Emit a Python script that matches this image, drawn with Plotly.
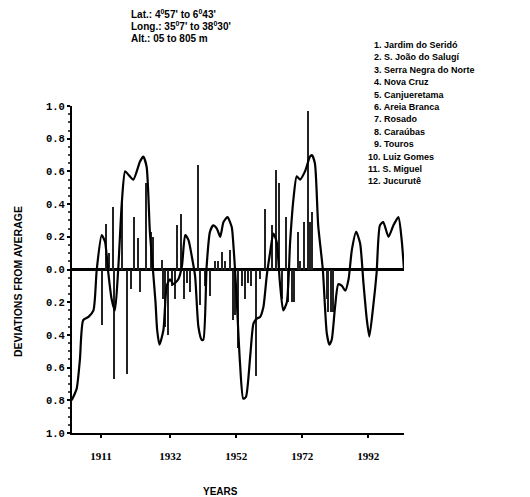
import plotly.graph_objects as go

# Smoothed curve (years, deviation)
curve_years = [1902.1, 1903.6, 1904.6, 1905.6, 1907.2, 1908.7, 1909.7, 1911.2, 1912.2, 1913.2,
               1914.2, 1915.2, 1916.2, 1917.3, 1918.3, 1919.3, 1920.8, 1922.8, 1923.8, 1924.8,
               1925.8, 1926.8, 1927.5, 1928.0, 1928.7, 1929.9, 1930.9, 1931.9, 1932.9, 1934.4,
               1935.5, 1936.5, 1937.5, 1938.5, 1939.5, 1940.5, 1941.5, 1942.0, 1943.0, 1944.0,
               1945.0, 1946.1, 1947.1, 1948.1, 1949.3, 1950.6, 1951.0, 1951.6, 1952.1, 1953.1,
               1954.1, 1954.9, 1956.2, 1957.2, 1958.2, 1959.2, 1960.2, 1961.2, 1962.2, 1963.2,
               1964.2, 1965.2, 1966.2, 1967.3, 1968.3, 1969.3, 1970.3, 1971.3, 1972.8, 1974.3,
               1974.9, 1975.8, 1976.8, 1978.2, 1979.4, 1980.2, 1980.9, 1981.9, 1982.9, 1984.0,
               1985.0, 1986.0, 1987.0, 1988.3, 1989.5, 1990.5, 1991.5, 1992.3, 1993.5, 1994.5,
               1995.5, 1996.5, 1998.1, 1999.6, 2001.1, 2002.1, 2002.8]
curve_values = [-0.80, -0.73, -0.55, -0.31, -0.29, -0.25, 0.00, 0.21, 0.17, -0.02,
                -0.18, -0.25, 0.00, 0.41, 0.60, 0.58, 0.55, 0.66, 0.69, 0.63,
                0.23, -0.02, -0.20, -0.37, -0.46, -0.37, -0.10, -0.06, -0.09, -0.06,
                0.02, 0.21, 0.18, 0.08, -0.04, -0.35, -0.43, -0.43, 0.02, 0.23,
                0.27, 0.25, 0.20, 0.29, 0.32, 0.26, 0.18, 0.00, -0.18, -0.57,
                -0.79, -0.78, -0.53, -0.33, -0.30, -0.29, -0.23, -0.04, 0.10, 0.22,
                0.17, -0.08, -0.25, -0.20, 0.17, 0.43, 0.57, 0.55, 0.60, 0.69,
                0.70, 0.65, 0.27, 0.00, -0.39, -0.46, -0.43, -0.23, -0.09, -0.10,
                -0.13, -0.06, 0.12, 0.23, 0.16, -0.08, -0.30, -0.41, -0.22, -0.02,
                0.27, 0.29, 0.20, 0.27, 0.32, 0.18, 0.00]

# Individual station deviations (spikes)
spike_years = [1911.2, 1912.5, 1913.5, 1914.5, 1915.0, 1917.3, 1919.0, 1920.0, 1921.0, 1922.3,
               1922.8, 1924.6, 1926.2, 1926.7, 1929.4, 1929.9, 1930.4, 1931.4, 1932.4, 1933.4,
               1933.9, 1935.3, 1936.0, 1937.0, 1938.0, 1940.3, 1941.0, 1942.5, 1944.0, 1945.5,
               1946.5, 1947.6, 1948.6, 1950.1, 1950.9, 1951.6, 1952.6, 1953.6, 1954.6, 1955.6,
               1956.6, 1958.0, 1959.2, 1960.7, 1962.7, 1964.0, 1965.0, 1965.8, 1967.0, 1967.8,
               1968.8, 1969.6, 1970.8, 1971.4, 1972.5, 1973.8, 1974.3, 1974.8, 1979.4, 1979.9,
               1980.6, 1981.2]
spike_values = [-0.34, 0.28, 0.10, 0.38, -0.67, 0.41, -0.64, -0.12, 0.32, 0.19,
                -0.14, 0.53, 0.23, 0.20, 0.06, -0.18, -0.35, -0.40, -0.10, -0.18,
                0.27, 0.34, -0.18, -0.08, -0.14, 0.64, -0.22, -0.10, -0.16, 0.05,
                0.05, 0.11, 0.05, 0.12, -0.31, -0.28, -0.48, -0.10, -0.18, -0.08,
                -0.10, -0.65, -0.06, 0.37, 0.27, 0.61, 0.53, -0.18, 0.32, -0.20,
                -0.20, -0.20, 0.23, 0.05, 0.29, 0.97, 0.29, 0.35, -0.18, -0.26,
                -0.26, -0.26]

x_tick_years = [1911, 1932, 1952, 1972, 1992]
y_tick_vals = [1.0, 0.8, 0.6, 0.4, 0.2, 0.0, -0.2, -0.4, -0.6, -0.8, -1.0]
y_tick_text = ["1.0", "0.8", "0.6", "0.4", "0.2", "0.0", "0.2", "0.4", "0.6", "0.8", "1.0"]

header_lines = ["Lat.: 4<sup>0</sup>57' to 6<sup>0</sup>43'",
                "Long.: 35<sup>0</sup>7' to 38<sup>0</sup>30'",
                "Alt.: 05 to 805 m"]
stations = ["Jardim do Seridó", "S. João do Salugí", "Serra Negra do Norte", "Nova Cruz",
            "Canjueretama", "Areia Branca", "Rosado", "Caraúbas", "Touros",
            "Luiz Gomes", "S. Miguel", "Jucurutê"]

W, H = 530, 497
L, R, T, B = 72, 126, 106, 64
pw, ph = W - L - R, H - T - B


def px(x):
    return (x - L) / pw


def py(y):
    return (H - B - y) / ph


fig = go.Figure()
fig.add_trace(go.Bar(x=spike_years, y=spike_values, width=0.33,
                     marker=dict(color="#222222", line=dict(width=0)),
                     showlegend=False))
fig.add_trace(go.Scatter(x=curve_years, y=curve_values, mode="lines",
                         line=dict(color="black", width=2.2, shape="spline", smoothing=0.6),
                         showlegend=False, cliponaxis=False))

ann = []
for i, t in enumerate(header_lines):
    ann.append(dict(x=px(129), y=py(13.5 + 12.5 * i), xref="paper", yref="paper",
                    text="<b>" + t + "</b>", showarrow=False, xanchor="left", yanchor="middle",
                    font=dict(family="Liberation Sans", size=10, color="black")))
for i, s in enumerate(stations):
    n = i + 1
    x0 = 372 if n < 10 else 366
    ann.append(dict(x=px(x0), y=py(45 + 12.4 * i), xref="paper", yref="paper",
                    text="<b>%d. %s</b>" % (n, s), showarrow=False, xanchor="left",
                    yanchor="middle",
                    font=dict(family="Liberation Sans", size=9, color="black")))
ann.append(dict(x=px(18), y=py(282), xref="paper", yref="paper",
                text="<b>DEVIATIONS FROM AVERAGE</b>", textangle=-90, showarrow=False,
                xanchor="center", yanchor="middle",
                font=dict(family="Liberation Sans", size=10.5, color="black")))
ann.append(dict(x=px(220), y=py(491), xref="paper", yref="paper",
                text="<b>YEARS</b>", showarrow=False, xanchor="center", yanchor="middle",
                font=dict(family="Liberation Sans", size=10, color="black")))

fig.update_layout(
    width=W, height=H,
    margin=dict(l=L, r=R, t=T, b=B),
    paper_bgcolor="white", plot_bgcolor="white",
    bargap=0,
    annotations=ann,
    xaxis=dict(range=[1902.2, 2002.8], tickvals=x_tick_years,
               ticktext=[str(v) for v in x_tick_years],
               showgrid=False, zeroline=False, showline=True, linecolor="black",
               linewidth=2, ticks="outside", ticklen=3, tickwidth=2, tickcolor="black",
               ticklabelstandoff=9,
               tickfont=dict(family="Liberation Serif", size=11, color="black", weight="bold")),
    yaxis=dict(range=[-1.0, 1.0], tickvals=y_tick_vals, ticktext=y_tick_text,
               showgrid=False, zeroline=True, zerolinecolor="black", zerolinewidth=2.5,
               showline=True, linecolor="black", linewidth=2, ticks="outside",
               ticklen=3, tickwidth=2, tickcolor="black",
               minor=dict(ticks="outside", ticklen=2, dtick=0.05, tickcolor="#444"),
               tickfont=dict(family="Liberation Mono", size=10.5, color="black", weight="bold")),
)

fig.write_html("out.html")
